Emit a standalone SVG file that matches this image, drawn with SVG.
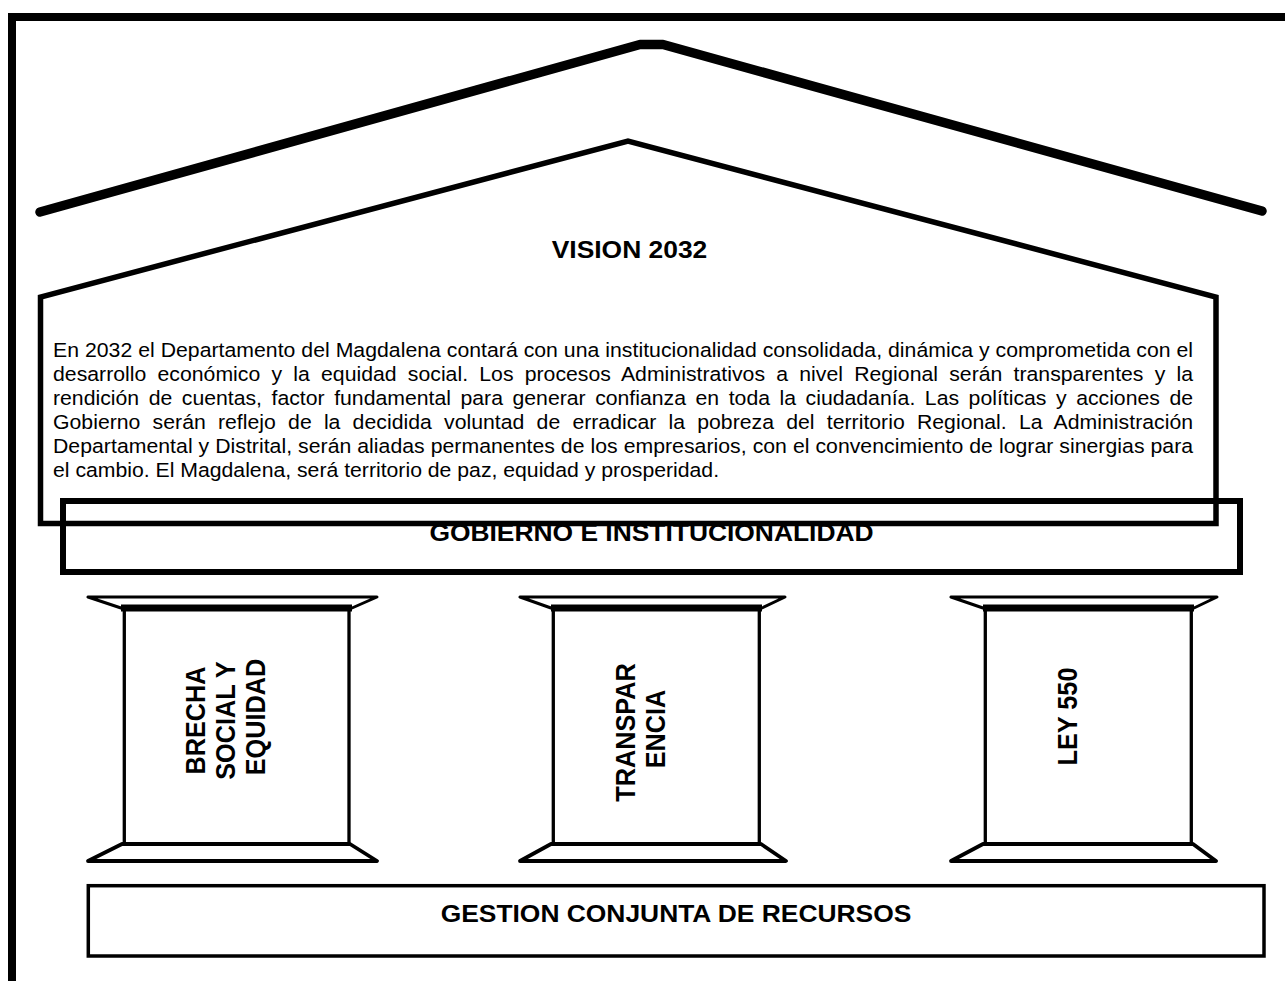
<svg xmlns="http://www.w3.org/2000/svg" width="1285" height="981" viewBox="0 0 1285 981">
  <style>
    .ln { fill: none; stroke: #000; stroke-linejoin: round; stroke-linecap: round; }
    .body { font-family: "Liberation Sans", Arial, sans-serif; font-size: 19.3px; fill: #000; }
    .title { font-family: "Liberation Sans", Arial, sans-serif; font-size: 24px; font-weight: bold; fill: #000; text-anchor: middle; }
    .col { font-family: "Liberation Sans", Arial, sans-serif; font-size: 25.3px; font-weight: bold; fill: #000; text-anchor: middle; }
  </style>
  <rect x="0" y="0" width="1285" height="981" fill="#fff"/>

  <!-- page frame -->
  <g id="frame">
    <path d="M12,985 V17 H1290" fill="none" stroke="#000" stroke-width="8" stroke-linejoin="miter"/>
  </g>

  <!-- outer roof -->
  <g id="roof">
    <path class="ln" d="M40,212 L640,44.5 L663,44.5 L1262,211" stroke-width="9.5" stroke-linejoin="miter"/>
  </g>

  <!-- base: gestion conjunta -->
  <g id="gestion">
    <rect x="88.3" y="885.7" width="1175.7" height="70.3" fill="none" stroke="#000" stroke-width="3.5"/>
    <text class="title" transform="translate(676,921.5) scale(1.1,1)">GESTION CONJUNTA DE RECURSOS</text>
  </g>

  <!-- beam: gobierno e institucionalidad -->
  <g id="gobierno">
    <rect x="63" y="501" width="1177" height="71" fill="none" stroke="#000" stroke-width="6"/>
    <text class="title" transform="translate(651.5,540.5) scale(1.1,1)">GOBIERNO E INSTITUCIONALIDAD</text>
  </g>

  <!-- house: vision 2032 -->
  <g id="vision">
    <path d="M40.5,523.5 V297 L628,141 L1216,297 V523.5 Z" fill="none" stroke="#000" stroke-width="5.5" stroke-linejoin="miter"/>
    <text class="title" transform="translate(629.5,257.5) scale(1.1,1)">VISION 2032</text>
    <g transform="translate(53,0) scale(1.1,1)">
      <text class="body" x="0" y="357" textLength="1036.4" lengthAdjust="spacing">En 2032 el Departamento del Magdalena contará con una institucionalidad consolidada, dinámica y comprometida con el</text>
      <text class="body" x="0" y="381" word-spacing="4.8" textLength="1036.4" lengthAdjust="spacing">desarrollo económico y la equidad social. Los procesos Administrativos a nivel Regional serán transparentes y la</text>
      <text class="body" x="0" y="405" word-spacing="3.3" textLength="1036.4" lengthAdjust="spacing">rendición de cuentas, factor fundamental para generar confianza en toda la ciudadanía. Las políticas y acciones de</text>
      <text class="body" x="0" y="429" word-spacing="5.7" textLength="1036.4" lengthAdjust="spacing">Gobierno serán reflejo de la decidida voluntad de erradicar la pobreza del territorio Regional. La Administración</text>
      <text class="body" x="0" y="453" textLength="1036.4" lengthAdjust="spacing">Departamental y Distrital, serán aliadas permanentes de los empresarios, con el convencimiento de lograr sinergias para</text>
      <text class="body" x="0" y="477">el cambio. El Magdalena, será territorio de paz, equidad y prosperidad.</text>
    </g>
  </g>

  <!-- pillar 1 -->
  <g id="pillar-brecha">
    <polygon class="ln" points="88,597 377,597 352,608 121,608" stroke-width="3"/>
    <line x1="121" y1="608" x2="352" y2="608" stroke="#000" stroke-width="7"/>
    <path class="ln" d="M124.3,608 V844 M349,608 V844" stroke-width="3.3"/>
    <polygon class="ln" points="122,844 350,844 377,861 88,861" stroke-width="3.8"/>
    <text class="col" transform="translate(205,717) scale(1.1,1) rotate(-90)">
      <tspan x="0" y="0">BRECHA</tspan>
      <tspan x="0" y="27.5">SOCIAL Y</tspan>
      <tspan x="0" y="55">EQUIDAD</tspan>
    </text>
  </g>

  <!-- pillar 2 -->
  <g id="pillar-transparencia">
    <polygon class="ln" points="520,597 785,597 762,608 551,608" stroke-width="3"/>
    <line x1="551" y1="608" x2="762" y2="608" stroke="#000" stroke-width="7"/>
    <path class="ln" d="M553.3,608 V844 M759.3,608 V844" stroke-width="3.3"/>
    <polygon class="ln" points="551,844 761,844 786,861 520,861" stroke-width="3.8"/>
    <text class="col" transform="translate(635,729) scale(1.1,1) rotate(-90)">
      <tspan x="0" y="0">TRANSPAR</tspan>
      <tspan x="0" y="27.3">ENCIA</tspan>
    </text>
  </g>

  <!-- pillar 3 -->
  <g id="pillar-ley550">
    <polygon class="ln" points="951,597 1217,597 1194,608 983,608" stroke-width="3"/>
    <line x1="983" y1="608" x2="1194" y2="608" stroke="#000" stroke-width="7"/>
    <path class="ln" d="M985.3,608 V844 M1191.3,608 V844" stroke-width="3.3"/>
    <polygon class="ln" points="983,844 1193,844 1216,861 951,861" stroke-width="3.8"/>
    <text class="col" transform="translate(1077,716.5) scale(1.1,1) rotate(-90)">LEY 550</text>
  </g>

  <g id="connectors"/>
</svg>
